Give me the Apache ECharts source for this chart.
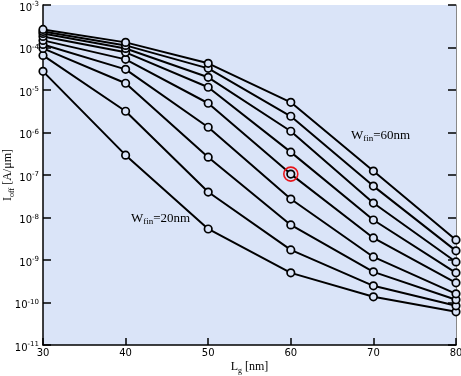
<!DOCTYPE html>
<html>
<head>
<meta charset="utf-8">
<script src="https://cdn.jsdelivr.net/npm/echarts@6/dist/echarts.min.js"></script>
<style>
  html, body { margin: 0; padding: 0; background: #fff; }
  #chart { width: 461px; height: 376px; }
</style>
</head>
<body>
<div id="chart"></div>
<script>
// gate length [nm]
var lgNm = [30, 40, 50, 60, 70, 80];
// off current [A/um], one array per fin width
var w20 = [2.75e-5, 2.93e-7, 5.37e-9, 4.98e-10, 1.36e-10, 6.05e-11];
var w25 = [6.5e-5, 3.16e-6, 3.97e-8, 1.73e-9, 2.47e-10, 8.37e-11];
var w30 = [9.5e-5, 1.44e-5, 2.63e-7, 6.67e-9, 5.26e-10, 1.16e-10];
var w35 = [1.18e-4, 3.06e-5, 1.33e-6, 2.72e-8, 1.18e-9, 1.6e-10];
var w40 = [1.47e-4, 5.26e-5, 4.88e-6, 1.05e-7, 3.3e-9, 2.9e-10];
var w45 = [1.82e-4, 7.7e-5, 1.16e-5, 3.45e-7, 8.73e-9, 4.98e-10];
var w50 = [2.14e-4, 9.5e-5, 1.99e-5, 1.07e-6, 2.19e-8, 9.0e-10];
var w55 = [2.39e-4, 1.12e-4, 3.23e-5, 2.41e-6, 5.48e-8, 1.64e-9];
var w60 = [2.66e-4, 1.32e-4, 4.24e-5, 5.14e-6, 1.24e-7, 2.96e-9];
var allW = [w20, w25, w30, w35, w40, w45, w50, w55, w60];
var wNames = ['20nm', '25nm', '30nm', '35nm', '40nm', '45nm', '50nm', '55nm', '60nm'];

var bg = '#dae4f8';
var myChart = echarts.init(document.getElementById('chart'));

var series = allW.map(function (arr, i) {
  var s = {
    name: wNames[i],
    type: 'line',
    data: lgNm.map(function (x, j) { return [x, arr[j]]; }),
    symbol: 'circle',
    symbolSize: 7.5,
    lineStyle: { color: '#000', width: 2 },
    itemStyle: { color: bg, borderColor: '#000', borderWidth: 1.7 },
    z: 3,
    animation: false
  };
  if (arr === w40) {
    s.markPoint = {
      symbol: 'circle',
      symbolSize: 14,
      itemStyle: { color: 'rgba(0,0,0,0)', borderColor: '#e8141a', borderWidth: 1.6 },
      label: { show: false },
      data: [{ coord: [lgNm[3], w40[3]] }]
    };
  }
  return s;
});

var supRich = {
  b: { fontSize: 10, lineHeight: 14, fontFamily: 'DejaVu Sans', color: '#000' },
  s: { fontSize: 7, lineHeight: 7, verticalAlign: 'top', fontFamily: 'DejaVu Sans', color: '#000' }
};
var titleRich = {
  a: { fontFamily: 'Liberation Serif', fontSize: 12, lineHeight: 16, color: '#000' },
  sub: { fontFamily: 'Liberation Serif', fontSize: 8, lineHeight: 8, verticalAlign: 'bottom', color: '#000' }
};

var option = {
  animation: false,
  backgroundColor: '#fff',
  grid: {
    left: 43, right: 5, top: 5, bottom: 31,
    outerBoundsMode: 'none',
    containLabel: false,
    show: true, backgroundColor: bg, borderWidth: 0
  },
  xAxis: {
    type: 'value',
    min: 30, max: 80, interval: 10,
    name: '{a|L}{sub|g}{a| [nm]}',
    nameLocation: 'middle',
    nameGap: 14,
    nameMoveOverlap: false,
    nameTextStyle: { rich: titleRich },
    axisLine: { lineStyle: { color: '#000', width: 1.5 } },
    axisTick: { inside: true, length: 7, lineStyle: { color: '#000', width: 1.5 } },
    axisLabel: { margin: 3, fontFamily: 'DejaVu Sans', fontSize: 10, color: '#000' },
    splitLine: { show: false }
  },
  yAxis: [{
    type: 'log',
    logBase: 10,
    min: 1e-11, max: 1e-3,
    name: '{a|I}{sub|off}{a| [A/μm]}',
    nameLocation: 'middle',
    nameRotate: 90,
    nameGap: 27,
    nameMoveOverlap: false,
    nameTextStyle: { rich: titleRich },
    axisLine: { show: true, lineStyle: { color: '#000', width: 1.5 } },
    axisTick: { inside: true, length: 8, lineStyle: { color: '#000', width: 1.5 } },
    axisLabel: {
      margin: 4,
      padding: [6, 0, 0, 0],
      formatter: function (v) {
        return '{b|10}{s|' + Math.round(Math.log10(v)) + '}';
      },
      rich: supRich
    },
    splitLine: { show: false }
  }, {
    type: 'log',
    logBase: 10,
    min: 1e-11, max: 1e-3,
    position: 'right',
    axisLine: { show: true, lineStyle: { color: '#888', width: 1 } },
    axisTick: { inside: true, length: 8, lineStyle: { color: '#000', width: 1.5 } },
    axisLabel: { show: false },
    splitLine: { show: false }
  }],
  graphic: [{
    type: 'text',
    left: 351, top: 129,
    style: {
      text: '{a|W}{sub|fin}{a|=60nm}',
      rich: {
        a: { fontFamily: 'Liberation Serif', fontSize: 13, lineHeight: 16, fill: '#000' },
        sub: { fontFamily: 'Liberation Serif', fontSize: 9, lineHeight: 9, verticalAlign: 'bottom', fill: '#000' }
      }
    }
  }, {
    type: 'text',
    left: 131, top: 212,
    style: {
      text: '{a|W}{sub|fin}{a|=20nm}',
      rich: {
        a: { fontFamily: 'Liberation Serif', fontSize: 13, lineHeight: 16, fill: '#000' },
        sub: { fontFamily: 'Liberation Serif', fontSize: 9, lineHeight: 9, verticalAlign: 'bottom', fill: '#000' }
      }
    }
  }],
  series: series
};

myChart.setOption(option);
</script>
</body>
</html>
